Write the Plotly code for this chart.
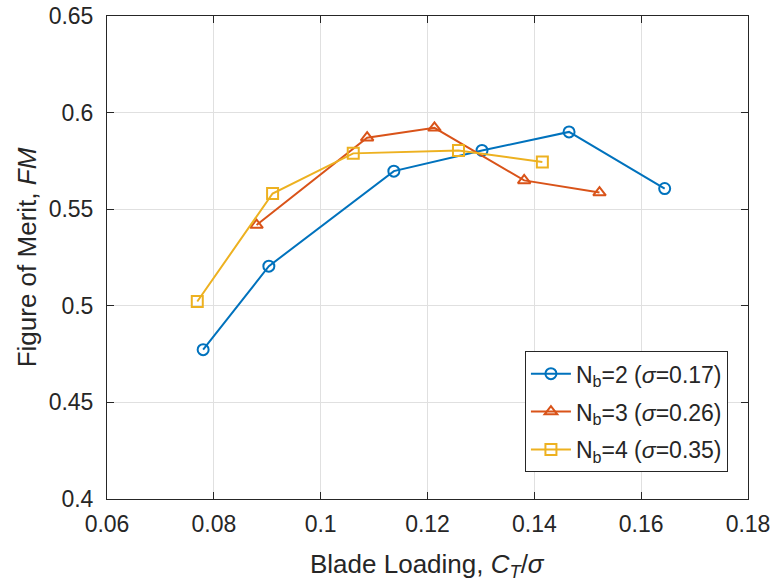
import plotly.graph_objects as go

# Rotor figure of merit vs blade loading, for three blade counts
ct_sigma_nb2 = [0.0780, 0.0903, 0.1137, 0.1302, 0.1465, 0.1644]
fm_nb2 = [0.4773, 0.5205, 0.5697, 0.5804, 0.5900, 0.5607]

ct_sigma_nb3 = [0.0880, 0.1087, 0.1213, 0.1381, 0.1522]
fm_nb3 = [0.5418, 0.5870, 0.5921, 0.5649, 0.5586]

ct_sigma_nb4 = [0.0769, 0.0910, 0.1061, 0.1258, 0.1415]
fm_nb4 = [0.5022, 0.5581, 0.5789, 0.5804, 0.5744]

series_names = [
    "N<sub>b</sub>=2 (<i>σ</i>=0.17)",
    "N<sub>b</sub>=3 (<i>σ</i>=0.26)",
    "N<sub>b</sub>=4 (<i>σ</i>=0.35)",
]

x_ticks = [0.06, 0.08, 0.10, 0.12, 0.14, 0.16, 0.18]
x_tick_labels = ["0.06", "0.08", "0.1", "0.12", "0.14", "0.16", "0.18"]
y_ticks = [0.40, 0.45, 0.50, 0.55, 0.60, 0.65]
y_tick_labels = ["0.4", "0.45", "0.5", "0.55", "0.6", "0.65"]

x_title = "Blade Loading, <i>C</i><sub><i>T</i></sub>/<i>σ</i>"
y_title = "Figure of Merit, <i>FM</i>"

colors = ["#0072BD", "#D95319", "#EDB120"]
symbols = ["circle-open", "triangle-up-open", "square-open"]

FONT = "Liberation Sans, Arial, sans-serif"
INK = "#262626"

fig = go.Figure()
for i, (xs, ys, name, col, sym) in enumerate(zip(
    [ct_sigma_nb2, ct_sigma_nb3, ct_sigma_nb4],
    [fm_nb2, fm_nb3, fm_nb4],
    series_names, colors, symbols,
)):
    fig.add_trace(go.Scatter(
        x=xs, y=ys, name=name, mode="lines+markers", legendgroup=f"g{i}",
        line=dict(color=col, width=2),
        marker=dict(symbol=sym, size=11, color=col, line=dict(color=col, width=2)),
    ))

axis_common = dict(
    showline=True, linecolor=INK, linewidth=1, mirror="ticks",
    ticks="inside", ticklen=7, tickcolor=INK, tickwidth=1,
    showgrid=True, gridcolor="#e0e0e0", gridwidth=1, zeroline=False,
    tickfont=dict(family=FONT, size=23, color=INK), automargin=False,
)

fig.update_layout(
    width=771, height=582,
    margin=dict(l=107, r=23, t=16, b=83),
    paper_bgcolor="white", plot_bgcolor="white",
    font=dict(family=FONT, color=INK),
    xaxis=dict(
        range=[0.06, 0.18], tickvals=x_ticks, ticktext=x_tick_labels,
        ticklabelstandoff=4,
        **axis_common,
    ),
    yaxis=dict(
        range=[0.40, 0.65], tickvals=y_ticks, ticktext=y_tick_labels,
        ticklabelstandoff=8,
        title=dict(text=y_title, font=dict(size=26, color=INK), standoff=4),
        **axis_common,
    ),
    legend=dict(
        x=0.652, y=0.306, xanchor="left", yanchor="top",
        bgcolor="white", bordercolor=INK, borderwidth=1,
        font=dict(size=23, color=INK),
        itemwidth=40, tracegroupgap=5,
    ),
)

# x-axis title placed below the tick labels
fig.add_annotation(
    text=x_title, xref="paper", yref="paper", x=0.5, y=-0.137,
    xanchor="center", yanchor="middle", showarrow=False,
    font=dict(family=FONT, size=26, color=INK),
)

fig.write_html("out.html")
